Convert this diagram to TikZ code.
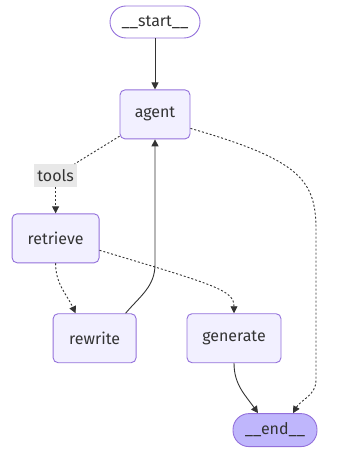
\documentclass[tikz,border=0pt]{standalone}
\usepackage{fontspec}
\setmainfont{Fira Sans}
\usepackage{tikz}
\usetikzlibrary{arrows.meta,positioning,shapes,calc}
\definecolor{nodefill}{HTML}{F2F0FF}
\definecolor{nodedraw}{HTML}{9370DB}
\definecolor{endfill}{HTML}{BFB6FC}
\definecolor{inkgray}{HTML}{333333}
\definecolor{labelgray}{HTML}{E8E8E8}
\begin{document}
\begin{tikzpicture}[x=1pt, y=-1pt,
        every node/.style={font=\fontsize{16}{19}\selectfont, text=inkgray},
        box/.style={rectangle, draw=nodedraw, fill=nodefill, line width=0.9pt, rounded corners=5pt, minimum height=49pt, inner sep=0pt},
        stadium/.style={rectangle, draw=nodedraw, line width=0.9pt, rounded corners=16pt, minimum height=32pt, inner sep=0pt},
        edgelabel/.style={rectangle, fill=labelgray, minimum width=43pt, minimum height=23pt, inner sep=0pt},
        arrow/.style={-{Triangle[length=7pt,width=7pt]}, line width=0.9pt, inkgray},
        dotline/.style={line width=0.9pt, inkgray, dash pattern=on 2pt off 2pt},
        dotarrow/.style={dotline, -{Triangle[length=7pt,width=7pt]}}
    ]
    \useasboundingbox (0,0) rectangle (346,454);
    \node[stadium, minimum width=90pt] (start) at (155,22) {\_\_start\_\_};
    \node[box, minimum width=70pt, below=51pt of start] (agent) {agent};
    \node[box, minimum width=87pt, below left=74pt and 20pt of agent] (retrieve) {retrieve};
    \node[edgelabel, above=26pt of retrieve] (tools) {tools};
    \node[box, minimum width=83pt, below=50pt of retrieve, xshift=39pt] (rewrite) {rewrite};
    \node[box, minimum width=94pt, right=50pt of rewrite] (generate) {generate};
    \node[stadium, fill=endfill, minimum width=84pt, minimum height=33pt, below=50pt of generate, xshift=41pt] (end) {\_\_end\_\_};
    \draw[arrow] (start) -- (agent);
    \draw[dotline] (agent) -- (tools);
    \draw[dotarrow] (tools) -- (retrieve);
    \draw[dotarrow] ([yshift=-14pt]agent.east) .. controls (300,160) and (316,180) .. (316,230) -- (316,380) to[out=-90,in=60] ([xshift=18pt]end.north);
    \draw[dotarrow] (retrieve.south) to[out=-90,in=115] ([xshift=-19pt]rewrite.north);
    \draw[dotarrow] ([yshift=-12pt]retrieve.east) .. controls (215,285) and (234,290) .. (generate.north);
    \draw[arrow] ([xshift=31pt]rewrite.north) to[out=50,in=-90] ([yshift=-125pt]agent.south) -- (agent.south);
    \draw[arrow] (generate.south) to[out=-90,in=125] ([xshift=-17pt]end.north);
\end{tikzpicture}
\end{document}
